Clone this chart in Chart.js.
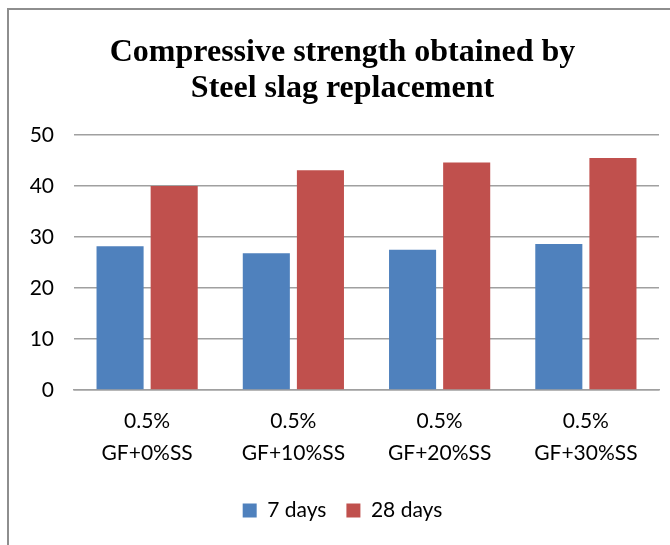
<!DOCTYPE html>
<html>
<head>
<meta charset="utf-8">
<script src="https://cdn.jsdelivr.net/npm/chart.js@4/dist/chart.umd.min.js"></script>
<style>
  html, body { margin: 0; padding: 0; background: #fff; }
  #wrap { position: relative; width: 670px; height: 545px; overflow: hidden; }
  #frame { position: absolute; left: 7px; top: 8px; width: 700px; height: 600px;
           border-left: 2px solid #8e8e8e; border-top: 2px solid #8e8e8e; }
  canvas { position: absolute; left: 0; top: 0; }
</style>
</head>
<body>
<div id="wrap">
  <div id="frame"></div>
  <canvas id="barChart" width="670" height="545"></canvas>
</div>
<script>
var categories = [
  ["0.5%", "GF+0%SS"],
  ["0.5%", "GF+10%SS"],
  ["0.5%", "GF+20%SS"],
  ["0.5%", "GF+30%SS"]
];
var days7 = [28.2, 26.8, 27.5, 28.6];
var days28 = [40.0, 43.1, 44.6, 45.5];

new Chart(document.getElementById("barChart"), {
  type: 'bar',
  data: {
    labels: categories,
    datasets: [{
      label: "7 days",
      backgroundColor: "#4f81bd",
      data: days7,
      categoryPercentage: 0.74,
      barPercentage: 0.87
    }, {
      label: "28 days",
      backgroundColor: "#c0504d",
      data: days28,
      categoryPercentage: 0.74,
      barPercentage: 0.87
    }]
  },
  options: {
    responsive: false,
    animation: false,
    layout: {
      padding: { left: 26, right: 11, top: 20, bottom: 14 }
    },
    plugins: {
      title: {
        display: true,
        text: ['Compressive strength obtained by', 'Steel slag replacement'],
        color: '#000',
        font: { family: 'Liberation Serif', size: 32, weight: 'bold', lineHeight: 1.14 },
        padding: { top: 14, bottom: 28 }
      },
      legend: {
        position: 'bottom',
        labels: {
          color: '#000',
          font: { family: 'Lato', size: 21 },
          boxWidth: 14,
          boxHeight: 14,
          padding: 20
        }
      },
      tooltip: { enabled: false }
    },
    scales: {
      x: {
        grid: { display: false, drawTicks: false },
        border: { color: '#a0a0a0', width: 1.5 },
        ticks: {
          color: '#000',
          font: { family: 'Lato', size: 21, lineHeight: 1.52 },
          padding: 15,
          maxRotation: 0
        },
        afterFit: function (scale) { scale.height = 90; }
      },
      y: {
        min: 0,
        max: 50,
        grid: { color: '#a0a0a0', lineWidth: 1.5, drawTicks: false },
        border: { display: false },
        ticks: {
          stepSize: 10,
          color: '#000',
          font: { family: 'Lato', size: 21 },
          padding: 20
        },
        afterFit: function (scale) { scale.width = 48; }
      }
    }
  }
});
</script>
</body>
</html>
